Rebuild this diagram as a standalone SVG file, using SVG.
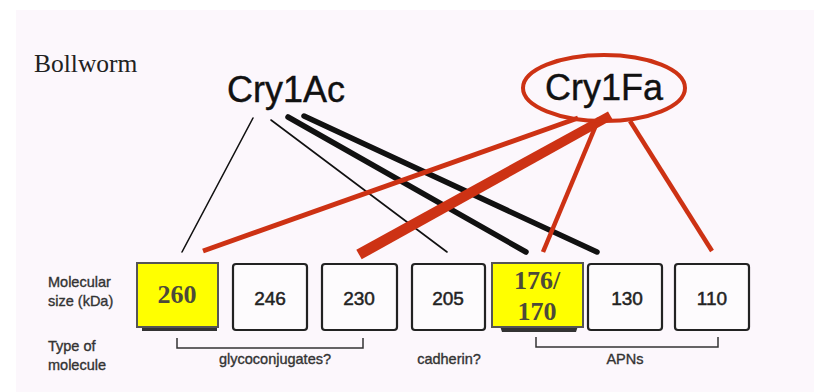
<svg xmlns="http://www.w3.org/2000/svg" width="814" height="392" viewBox="0 0 814 392">
<style>
.bg{fill:#fcf7fc}
.title{font-family:"Liberation Sans",Arial,sans-serif;font-size:36px;fill:#111;stroke:#111;stroke-width:0.4}
.wbox{fill:#fdfbfd;stroke:#222;stroke-width:2.2}
.ybox{fill:#ffff00;stroke:#555;stroke-width:2}
.shadow{fill:#333}
.num{font-family:"Liberation Sans",Arial,sans-serif;font-size:19px;fill:#222;stroke:#222;stroke-width:0.5;text-anchor:middle}
.ynum{font-family:"Liberation Serif","Times New Roman",serif;font-size:26px;font-weight:bold;fill:#4d4a3a;text-anchor:middle}
.lbl{font-family:"Liberation Sans",Arial,sans-serif;font-size:14.5px;fill:#333;stroke:#333;stroke-width:0.35}
.mid{text-anchor:middle}
.blk{stroke:#111;fill:none;stroke-linecap:round}
.red{stroke:#cd3214;fill:none}
.br{stroke:#333;stroke-width:1.5;fill:none}
</style>
<rect width="814" height="392" fill="#ffffff"/>
<rect class="bg" x="16" y="10" width="798" height="382"/>
<text x="34" y="72" font-family="'Liberation Serif','Times New Roman',serif" font-size="25.5" fill="#222">Bollworm</text>

<g id="connectors">
  <line class="blk" x1="253" y1="118" x2="182" y2="252" stroke-width="1.6"/>
  <line class="blk" x1="271" y1="120" x2="447" y2="252" stroke-width="1.6"/>
  <line class="blk" x1="288" y1="117" x2="526" y2="252" stroke-width="5.5"/>
  <line class="blk" x1="304" y1="116" x2="597" y2="252" stroke-width="5.5"/>
  <line class="red" x1="578" y1="118" x2="203" y2="251" stroke-width="5"/>
  <polygon fill="#cd3214" points="356.3,249.7 361.7,259.3 612.6,119.6 608,111.4"/>
  <line class="red" x1="599" y1="118" x2="543" y2="252" stroke-width="4.5"/>
  <line class="red" x1="630" y1="121" x2="712" y2="251" stroke-width="4.5"/>
</g>

<g id="cry1ac">
  <text class="title" x="227" y="102">Cry1Ac</text>
</g>
<g id="cry1fa">
  <ellipse cx="604" cy="88" rx="81" ry="33" fill="none" stroke="#cd3214" stroke-width="4"/>
  <text class="title" x="545" y="100">Cry1Fa</text>
</g>

<g id="labels">
  <text class="lbl" x="48" y="287">Molecular</text>
  <text class="lbl" x="48" y="306">size (kDa)</text>
  <text class="lbl" x="48" y="351">Type of</text>
  <text class="lbl" x="48" y="370">molecule</text>
</g>

<g id="box260">
  <rect class="shadow" x="142" y="326" width="75" height="5"/>
  <rect class="ybox" x="137" y="263" width="81" height="64"/>
  <text class="ynum" x="177" y="303">260</text>
</g>
<g id="box246">
  <rect class="wbox" x="233" y="264" width="74" height="66" rx="3"/>
  <text class="num" x="270" y="305">246</text>
</g>
<g id="box230">
  <rect class="wbox" x="322" y="264" width="75" height="66" rx="3"/>
  <text class="num" x="359" y="305">230</text>
</g>
<g id="box205">
  <rect class="wbox" x="412" y="264" width="73" height="66" rx="3"/>
  <text class="num" x="448" y="305">205</text>
</g>
<g id="box176">
  <polygon class="shadow" points="500,326 578,326 576,332 502,332"/>
  <rect class="ybox" x="492" y="263" width="91" height="64"/>
  <text class="ynum" x="537" y="289">176/</text>
  <text class="ynum" x="537" y="320">170</text>
</g>
<g id="box130">
  <rect class="wbox" x="588" y="264" width="74" height="66" rx="3"/>
  <text class="num" x="627" y="305">130</text>
</g>
<g id="box110">
  <rect class="wbox" x="675" y="264" width="74" height="66" rx="3"/>
  <text class="num" x="712" y="305">110</text>
</g>

<g id="brackets">
  <polyline class="br" points="177,338 177,348 363,348 363,338"/>
  <text class="lbl mid" x="275" y="364">glycoconjugates?</text>
  <text class="lbl mid" x="449" y="364">cadherin?</text>
  <polyline class="br" points="536,337 536,347 718,347 718,337"/>
  <text class="lbl mid" x="625" y="364">APNs</text>
</g>
</svg>
